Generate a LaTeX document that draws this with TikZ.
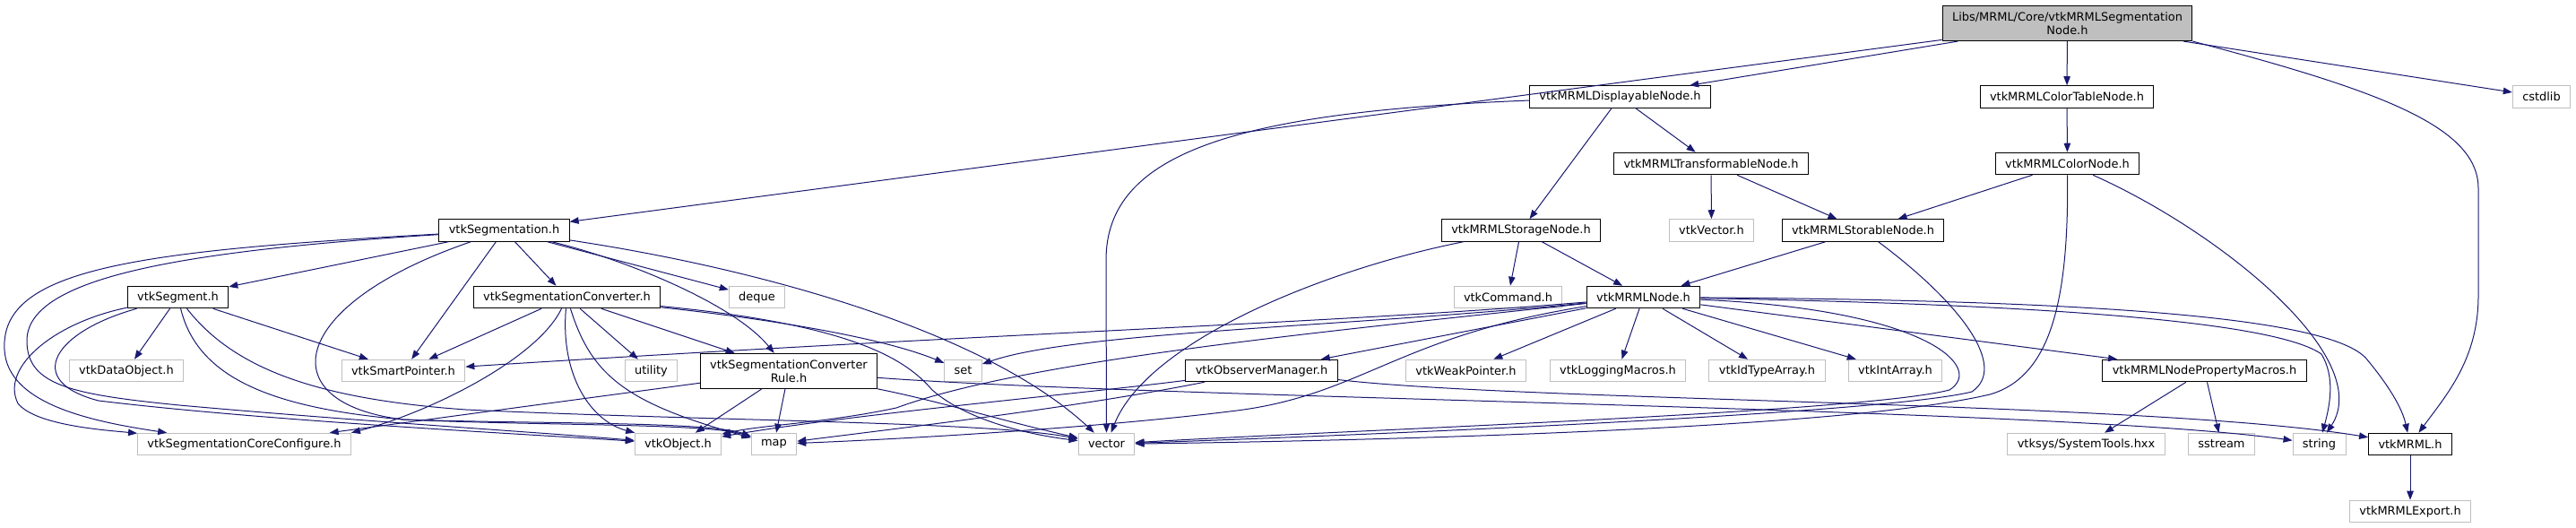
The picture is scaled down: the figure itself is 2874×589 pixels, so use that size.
\documentclass[tikz,border=0pt]{standalone}
\usepackage{fontspec}
\setmainfont{DejaVu Sans}
\usepackage{xcolor}
\usepackage{tikz}
\usetikzlibrary{arrows.meta}
\definecolor{edgeblue}{HTML}{191970}
\definecolor{grey75}{HTML}{BFBFBF}
\newcommand{\graphfont}{\fontsize{9.7pt}{11.25pt}\selectfont}

\begin{document}
\begin{tikzpicture}[x=0.75pt, y=-0.75pt,
  hdr/.style={draw=black, fill=white, rectangle, font=\graphfont, line width=0.75pt, inner xsep=8.2pt, inner ysep=0pt, minimum height=18.4pt},
  syshdr/.style={hdr, draw=grey75},
  twoline/.style={align=center, minimum height=29.4pt},
  inc/.style={edgeblue, line width=0.75pt, -{Triangle[length=7.5pt, width=5.6pt]}}]
  \useasboundingbox (0,0) rectangle (2874,589);

  \node (top) [hdr, twoline, fill=grey75] at (2306.5,26) {Libs/MRML/Core/vtkMRMLSegmentation\\Node.h};
  \node (disp) [hdr] at (1807.5,108) {vtkMRMLDisplayableNode.h};
  \node (ctab) [hdr] at (2306,108) {vtkMRMLColorTableNode.h};
  \node (cstdlib) [syshdr] at (2835.5,108) {cstdlib};
  \node (trans) [hdr] at (1909,182.5) {vtkMRMLTransformableNode.h};
  \node (cnode) [hdr] at (2306.5,182.5) {vtkMRMLColorNode.h};
  \node (seg) [hdr] at (562.5,257) {vtkSegmentation.h};
  \node (storage) [hdr] at (1697,257) {vtkMRMLStorageNode.h};
  \node (vvec) [syshdr] at (1909.5,257) {vtkVector.h};
  \node (storable) [hdr] at (2078.5,257) {vtkMRMLStorableNode.h};
  \node (segment) [hdr] at (198.5,331.5) {vtkSegment.h};
  \node (conv) [hdr] at (632.5,331.5) {vtkSegmentationConverter.h};
  \node (deque) [syshdr] at (844.5,331.5) {deque};
  \node (command) [syshdr] at (1682.5,331.5) {vtkCommand.h};
  \node (mrmlnode) [hdr] at (1833.5,331.5) {vtkMRMLNode.h};
  \node (dataobj) [syshdr] at (141,413.5) {vtkDataObject.h};
  \node (smartptr) [syshdr] at (450,413.5) {vtkSmartPointer.h};
  \node (utility) [syshdr] at (726.5,413.5) {utility};
  \node (rule) [hdr, twoline] at (880,414) {vtkSegmentationConverter\\Rule.h};
  \node (set) [syshdr] at (1074.5,413.5) {set};
  \node (observer) [hdr] at (1407.5,413.5) {vtkObserverManager.h};
  \node (weakptr) [syshdr] at (1635.5,413.5) {vtkWeakPointer.h};
  \node (logging) [syshdr] at (1805,413.5) {vtkLoggingMacros.h};
  \node (idtype) [syshdr] at (1971.5,413.5) {vtkIdTypeArray.h};
  \node (intarray) [syshdr] at (2114.5,413.5) {vtkIntArray.h};
  \node (propmacros) [hdr] at (2459.5,413.5) {vtkMRMLNodePropertyMacros.h};
  \node (coreconf) [syshdr] at (272.5,495.5) {vtkSegmentationCoreConfigure.h};
  \node (vobject) [syshdr] at (756.5,495.5) {vtkObject.h};
  \node (map) [syshdr] at (863.5,495.5) {map};
  \node (vector) [syshdr] at (1234.5,495.5) {vector};
  \node (systools) [syshdr] at (2327.5,495.5) {vtksys/SystemTools.hxx};
  \node (sstream) [syshdr] at (2478.5,495.5) {sstream};
  \node (string) [syshdr] at (2587.5,495.5) {string};
  \node (mrml) [hdr] at (2689,495.5) {vtkMRML.h};
  \node (export) [syshdr] at (2689,570.5) {vtkMRMLExport.h};

  \draw [inc] (top) -- (seg);
  \draw [inc] (top) -- (disp);
  \draw [inc] (top) -- (ctab);
  \draw [inc] (top) -- (cstdlib);
  \draw [inc] (top.south east) .. controls (2650,100) and (2765,140) .. (2765,210) -- (2765,330) .. controls (2765,400) and (2730,440) .. (mrml);

  \draw [inc] (disp) .. controls (1380,125) and (1234,170) .. (1234,290) -- (vector);
  \draw [inc] (disp) -- (storage);
  \draw [inc] (disp) -- (trans);
  \draw [inc] (trans) -- (vvec);
  \draw [inc] (trans) -- (storable);
  \draw [inc] (ctab) -- (cnode);
  \draw [inc] (cnode) -- (storable);
  \draw [inc] (cnode) .. controls (2308,330) and (2290,420) .. (2220,440) .. controls (2050,480) and (1500,492) .. (vector);
  \draw [inc] (cnode) .. controls (2480,260) and (2650,400) .. (string);
  \draw [inc] (storable) -- (mrmlnode);
  \draw [inc] (storable) .. controls (2190,340) and (2240,410) .. (2200,437) .. controls (2100,462) and (1500,486) .. (vector);
  \draw [inc] (storage) -- (command);
  \draw [inc] (storage) -- (mrmlnode);
  \draw [inc] (storage) .. controls (1480,300) and (1280,380) .. (vector);

  \draw [inc] (mrmlnode) .. controls (1500,360) and (1100,372) .. (smartptr);
  \draw [inc] (mrmlnode) .. controls (1500,365) and (1200,370) .. (set);
  \draw [inc] (mrmlnode) -- (observer);
  \draw [inc] (mrmlnode) -- (weakptr);
  \draw [inc] (mrmlnode) -- (logging);
  \draw [inc] (mrmlnode) -- (idtype);
  \draw [inc] (mrmlnode) -- (intarray);
  \draw [inc] (mrmlnode) -- (propmacros);
  \draw [inc] (mrmlnode) .. controls (2300,340) and (2540,360) .. (2590,395) .. controls (2605,420) and (2600,450) .. (string);
  \draw [inc] (mrmlnode) .. controls (2350,335) and (2600,355) .. (2640,400) .. controls (2665,430) and (2680,455) .. (mrml);
  \draw [inc] (mrmlnode) .. controls (2150,345) and (2215,410) .. (2175,435) .. controls (2080,460) and (1500,480) .. (vector);
  \draw [inc] (mrmlnode) .. controls (1560,375) and (1520,440) .. (1380,458) .. controls (1220,478) and (1000,490) .. (map);
  \draw [inc] (mrmlnode) .. controls (1500,368) and (1150,400) .. (1000,455) .. controls (920,472) and (850,474) .. (vobject);

  \draw [inc] (observer) .. controls (1200,440) and (950,462) .. (vobject);
  \draw [inc] (observer) .. controls (1200,455) and (1000,478) .. (map);
  \draw [inc] (observer) .. controls (1700,448) and (2400,448) .. (mrml);
  \draw [inc] (propmacros) -- (systools);
  \draw [inc] (propmacros) -- (sstream);
  \draw [inc] (mrml) -- (export);

  \draw [inc] (rule) -- (coreconf);
  \draw [inc] (rule) -- (vobject);
  \draw [inc] (rule) -- (map);
  \draw [inc] (rule) .. controls (1300,445) and (2300,455) .. (string);
  \draw [inc] (rule) .. controls (1050,448) and (1120,470) .. (vector);

  \draw [inc] (conv) -- (smartptr);
  \draw [inc] (conv) -- (rule);
  \draw [inc] (conv) -- (utility);
  \draw [inc] (conv) .. controls (850,355) and (980,375) .. (set);
  \draw [inc] (conv) .. controls (950,362) and (1010,400) .. (1040,435) .. controls (1080,470) and (1150,485) .. (vector);
  \draw [inc] (conv) .. controls (600,400) and (480,460) .. (coreconf.north east);
  \draw [inc] (conv) .. controls (625,420) and (660,470) .. (vobject);
  \draw [inc] (conv) .. controls (660,420) and (700,450) .. (map);

  \draw [inc] (seg) -- (segment);
  \draw [inc] (seg) -- (smartptr);
  \draw [inc] (seg) -- (conv);
  \draw [inc] (seg) -- (deque);
  \draw [inc] (seg) .. controls (700,290) and (820,340) .. (rule);
  \draw [inc] (seg) .. controls (850,300) and (1100,370) .. (vector);
  \draw [inc] (seg) .. controls (150,280) and (0,300) .. (5,390) .. controls (8,450) and (100,470) .. (coreconf);
  \draw [inc] (seg) .. controls (200,280) and (30,310) .. (30,380) .. controls (30,430) and (80,440) .. (200,452) .. controls (400,470) and (600,482) .. (vobject);
  \draw [inc] (seg) .. controls (320,340) and (300,450) .. (450,468) .. controls (600,473) and (790,470) .. (map);

  \draw [inc] (segment) -- (dataobj);
  \draw [inc] (segment) -- (smartptr);
  \draw [inc] (segment) .. controls (60,360) and (0,410) .. (20,450) .. controls (40,475) and (120,480) .. (coreconf);
  \draw [inc] (segment) .. controls (60,370) and (25,425) .. (110,447) .. controls (300,470) and (600,485) .. (vobject);
  \draw [inc] (segment) .. controls (220,420) and (300,455) .. (450,468) .. controls (600,475) and (790,472) .. (map);
  \draw [inc] (segment) .. controls (260,410) and (350,445) .. (520,457) .. controls (800,470) and (1100,470) .. (vector);
\end{tikzpicture}
\end{document}
